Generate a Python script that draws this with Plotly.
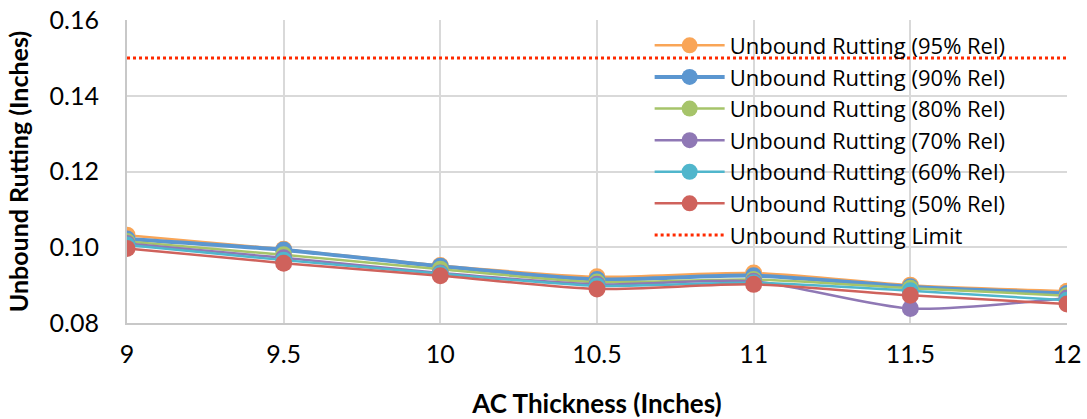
import plotly.graph_objects as go

# AC thickness (inches)
thickness = [9, 9.5, 10, 10.5, 11, 11.5, 12]

# Unbound rutting (inches) at each reliability level
rut_95 = [0.1032, 0.0995, 0.0952, 0.0922, 0.0932, 0.0900, 0.0884]
rut_90 = [0.1022, 0.0993, 0.0950, 0.0915, 0.0925, 0.0896, 0.0878]
rut_80 = [0.1015, 0.0980, 0.0942, 0.0908, 0.0915, 0.0892, 0.0872]
rut_70 = [0.1010, 0.0972, 0.0932, 0.0902, 0.0910, 0.0838, 0.0866]
rut_60 = [0.1006, 0.0966, 0.0930, 0.0898, 0.0906, 0.0885, 0.0860]
rut_50 = [0.0997, 0.0958, 0.0925, 0.0890, 0.0902, 0.0873, 0.0850]
rut_limit = 0.15

series_names = ["Unbound Rutting (95% Rel)", "Unbound Rutting (90% Rel)",
                "Unbound Rutting (80% Rel)", "Unbound Rutting (70% Rel)",
                "Unbound Rutting (60% Rel)", "Unbound Rutting (50% Rel)"]
series_values = [rut_95, rut_90, rut_80, rut_70, rut_60, rut_50]
series_colors = ["#F9A557", "#5B96D0", "#A6C46A", "#8F78B5", "#50B6CC", "#CF625C"]
series_widths = [2.5, 4, 2.5, 2.5, 2.5, 2.5]

fig = go.Figure()

for name, vals, col, w in zip(series_names, series_values, series_colors, series_widths):
    fig.add_trace(go.Scatter(
        x=thickness, y=vals, name=name, mode="lines+markers",
        line=dict(color=col, width=w, shape="spline", smoothing=0.7),
        marker=dict(color=col, size=17),
    ))

fig.add_trace(go.Scatter(
    x=[thickness[0], thickness[-1]], y=[rut_limit, rut_limit],
    name="Unbound Rutting Limit", mode="lines",
    line=dict(color="#FF2A00", width=3, dash="dot"),
))

font_family = "Lato, 'Open Sans', sans-serif"
legend_family = "'Open Sans', Lato, sans-serif"

fig.update_layout(
    width=1087, height=419,
    margin=dict(l=127, r=20, t=20, b=96),
    paper_bgcolor="white", plot_bgcolor="white",
    font=dict(family=font_family, color="black", size=24),
    showlegend=True,
    legend=dict(
        x=0.556, xanchor="left", y=0.985, yanchor="top",
        bgcolor="rgba(0,0,0,0)", font=dict(size=22, family=legend_family),
        tracegroupgap=0, itemwidth=70,
    ),
    xaxis=dict(
        range=[9, 12], tickvals=thickness,
        ticktext=["9", "9.5", "10", "10.5", "11", "11.5", "12"],
        showgrid=True, gridcolor="#D9D9D9", gridwidth=1.5,
        showline=True, linecolor="#C8C8C8", linewidth=2,
        ticks="", tickfont=dict(size=25), ticklabelstandoff=8,
        ticklabeloverflow="allow", automargin=False,
        title=dict(text="<b>AC Thickness (Inches)</b>", font=dict(size=26), standoff=36),
        zeroline=False,
    ),
    yaxis=dict(
        range=[0.08, 0.16], tickvals=[0.08, 0.10, 0.12, 0.14, 0.16],
        tickformat=".2f",
        showgrid=True, gridcolor="#D9D9D9", gridwidth=1.5,
        showline=True, linecolor="#C8C8C8", linewidth=2,
        ticks="", tickfont=dict(size=25), ticklabelstandoff=21,
        ticklabeloverflow="allow", automargin=False,
        title=dict(text="<b>Unbound Rutting (Inches)</b>", font=dict(size=25), standoff=14),
        zeroline=False,
    ),
)

fig.write_html("out.html")
